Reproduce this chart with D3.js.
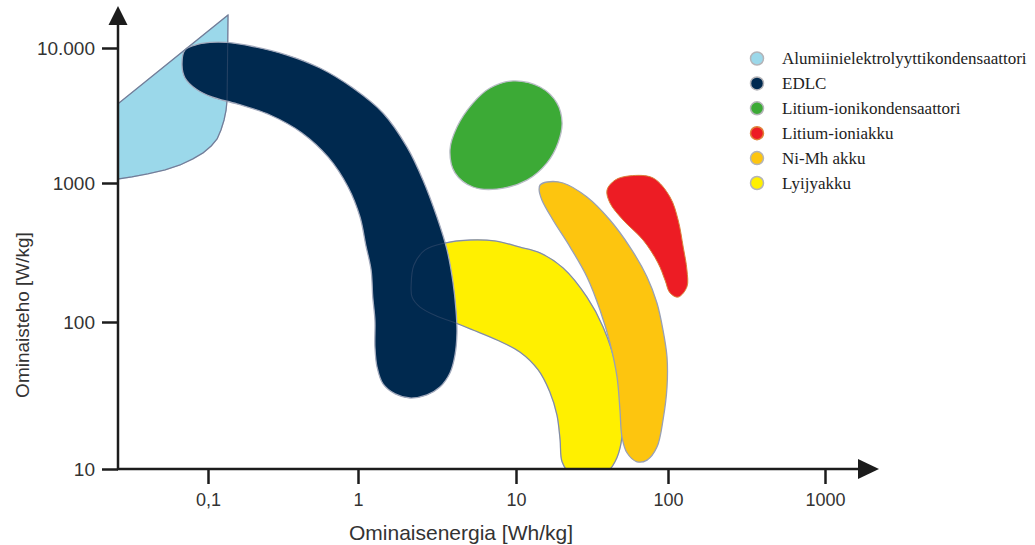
<!DOCTYPE html>
<html><head><meta charset="utf-8">
<script src="https://cdn.jsdelivr.net/npm/d3@7"></script>
<style>body{margin:0;background:#fff;} svg{display:block;}</style>
</head><body><svg id="c" width="1035" height="545"></svg>
<script>
// ---- data (energy Wh/kg, power W/kg) ----
const categories = ["Alumiinielektrolyyttikondensaattori","EDLC","Litium-ionikondensaattori","Litium-ioniakku","Ni-Mh akku","Lyijyakku"];
const xTicks = [0.1, 1, 10, 100, 1000];
const xTickLabels = ["0,1", "1", "10", "100", "1000"];
const yTicks = [10, 100, 1000, 10000];
const yTickLabels = ["10", "100", "1000", "10.000"];

const aluminium = [[0.025,3850],[0.136,17550],[0.135,8150],[0.134,4120],[0.132,3470],[0.128,2930],[0.122,2470],[0.115,2120],[0.105,1880],[0.0926,1670],[0.0794,1510],[0.0651,1360],[0.0517,1250],[0.0398,1170],[0.0311,1110],[0.025,1070]];
const edlc = [[0.0671,7480],[0.0703,9670],[0.0819,10500],[0.103,11000],[0.134,11000],[0.200,10260],[0.336,8870],[0.558,7110],[0.926,5050],[1.44,3300],[2.04,1850],[2.58,1050],[3.16,569],[3.66,330],[3.99,194],[4.17,122],[4.23,84.2],[4.11,59.6],[3.82,45.0],[3.30,36.1],[2.73,31.9],[2.13,30.4],[1.72,32.4],[1.44,37.9],[1.32,49.4],[1.28,67.6],[1.28,103],[1.24,151],[1.21,237],[1.12,358],[1.03,569],[0.858,936],[0.631,1560],[0.423,2350],[0.259,3190],[0.156,3850],[0.106,4340],[0.0832,4970],[0.0703,6000]];
const liionCapacitor = [[9.57,5700],[14.4,5140],[18.6,3910],[20.1,2780],[18.9,1980],[16.0,1410],[11.8,1050],[7.58,905],[5.34,936],[4.11,1190],[3.82,1760],[4.23,2600],[5.34,3910],[6.85,5050]];
const liionBattery = [[56.2,1130],[79.7,1090],[103,793],[116,542],[125,346],[132,237],[132,179],[116,151],[103,162],[95.6,200],[85.9,266],[68.5,389],[50.6,542],[41.5,718],[39.7,890],[44.8,1050]];
const nimh = [[14.4,967],[16.0,1017],[20.4,1000],[29.3,793],[41.5,542],[56.2,346],[72.8,211],[84.6,137],[92.7,88.2],[98.5,57.8],[98.5,36.1],[92.7,21.5],[84.6,14.1],[72.8,11.5],[62.5,11.2],[53.7,12.9],[49.8,16.5],[48.3,25.2],[46.2,42.3],[41.5,72.0],[35.7,122],[29.3,211],[22.7,346],[17.5,542],[14.8,755],[14.2,890]];
const leadAcid = [[2.17,185],[2.26,257],[2.66,330],[3.55,370],[5.12,389],[7.36,383],[10.6,346],[14.4,314],[20.4,245],[29.3,151],[37.4,92.5],[46.2,47.2],[49.8,25.2],[49.1,15.0],[44.8,11.2],[39.7,9.54],[30.7,8.96],[22.7,9.39],[20.1,11.2],[19.5,15.8],[18.6,23.3],[16.7,33.4],[14.0,47.2],[10.6,62.5],[7.58,75.4],[5.34,88.2],[3.99,100],[3.16,110],[2.47,128],[2.20,151]];

// ---- styles ----
const fills = ["#9bd8ea","#00294f","#3caa36","#ed1c24","#fdc50f","#fff000"];
const strokes = ["#8c96b0","#a3aabd","#b9bdc6","#d9823a","#98a0b6","#a3aabd"];

const svg = d3.select("#c");
const x = d3.scaleLog().domain(xTicks).range([208, 358, 516, 668, 825]);
const y = d3.scaleLog().domain(yTicks).range([469, 322, 183, 48]);

svg.append("clipPath").attr("id","plot").append("rect")
  .attr("x",118).attr("y",0).attr("width",900).attr("height",469);

const smooth = d3.line().x(d=>x(d[0])).y(d=>y(d[1])).curve(d3.curveCatmullRomClosed.alpha(0.5));
const straight = d3.line().x(d=>x(d[0])).y(d=>y(d[1])).curve(d3.curveLinearClosed);

const g = svg.append("g").attr("clip-path","url(#plot)");
function shape(data, i, gen){
  return g.append("path").attr("d", gen(data)).attr("fill", fills[i])
    .attr("stroke", strokes[i]).attr("stroke-width", 1.3).attr("stroke-linejoin","round");
}
shape(aluminium, 0, straight);
shape(leadAcid, 5, smooth);
shape(edlc, 1, smooth);
// outlines visible through EDLC
g.append("path").attr("d", straight(aluminium)).attr("fill","none").attr("stroke","rgba(80,95,125,0.45)").attr("stroke-width",1.1);
g.append("path").attr("d", smooth(leadAcid)).attr("fill","none").attr("stroke","rgba(80,95,125,0.4)").attr("stroke-width",1.1);
shape(liionCapacitor, 2, smooth);
shape(nimh, 4, smooth);
shape(liionBattery, 3, smooth).attr("stroke-width",1);

// ---- axes ----
const axisColor = "#1c1c1c";
const xAxis = svg.append("g").attr("transform","translate(0,469)")
  .call(d3.axisBottom(x).tickValues(xTicks).tickFormat((d,i)=>xTickLabels[i]).tickSize(15).tickPadding(9));
const yAxis = svg.append("g").attr("transform","translate(118,0)")
  .call(d3.axisLeft(y).tickValues(yTicks).tickFormat((d,i)=>yTickLabels[i]).tickSize(16).tickPadding(7));
[xAxis, yAxis].forEach(a=>{
  a.select(".domain").remove();
  a.selectAll(".tick line").attr("stroke", axisColor).attr("stroke-width", 2.5);
  a.selectAll(".tick text").attr("fill","#333").style("font-family","'Liberation Sans', Arial, sans-serif");
});
xAxis.selectAll(".tick text").style("font-size","18px");
yAxis.selectAll(".tick text").style("font-size","19px");

svg.append("line").attr("x1",118).attr("x2",118).attr("y1",470).attr("y2",22)
  .attr("stroke",axisColor).attr("stroke-width",2.5);
svg.append("line").attr("x1",117).attr("x2",862).attr("y1",469).attr("y2",469)
  .attr("stroke",axisColor).attr("stroke-width",2.5);
svg.append("path").attr("d","M108.5,25L127.5,25L118,6Z").attr("fill",axisColor);
svg.append("path").attr("d","M858,459L858,479L879,469Z").attr("fill",axisColor);

svg.append("text").attr("x",461).attr("y",540).attr("text-anchor","middle")
  .style("font-family","'Liberation Sans', Arial, sans-serif").style("font-size","21px").attr("fill","#333")
  .text("Ominaisenergia [Wh/kg]");
svg.append("text").attr("transform","translate(29,315) rotate(-90)").attr("text-anchor","middle")
  .style("font-family","'Liberation Sans', Arial, sans-serif").style("font-size","19px").attr("fill","#333")
  .text("Ominaisteho [W/kg]");

// ---- legend ----
const legend = svg.append("g");
categories.forEach((c,i)=>{
  const cy = 58.5 + 24.9*i;
  legend.append("circle").attr("cx",757).attr("cy",cy).attr("r",6.5)
    .attr("fill",fills[i]).attr("stroke", i===3 ? "#e0823a" : "#b4b4b8").attr("stroke-width",1.5);
  legend.append("text").attr("x",782).attr("y",cy).attr("dy","0.33em")
    .style("font-family","'Liberation Serif', 'Times New Roman', serif").style("font-size","17px").attr("fill","#222")
    .text(c);
});
</script>
</body></html>
